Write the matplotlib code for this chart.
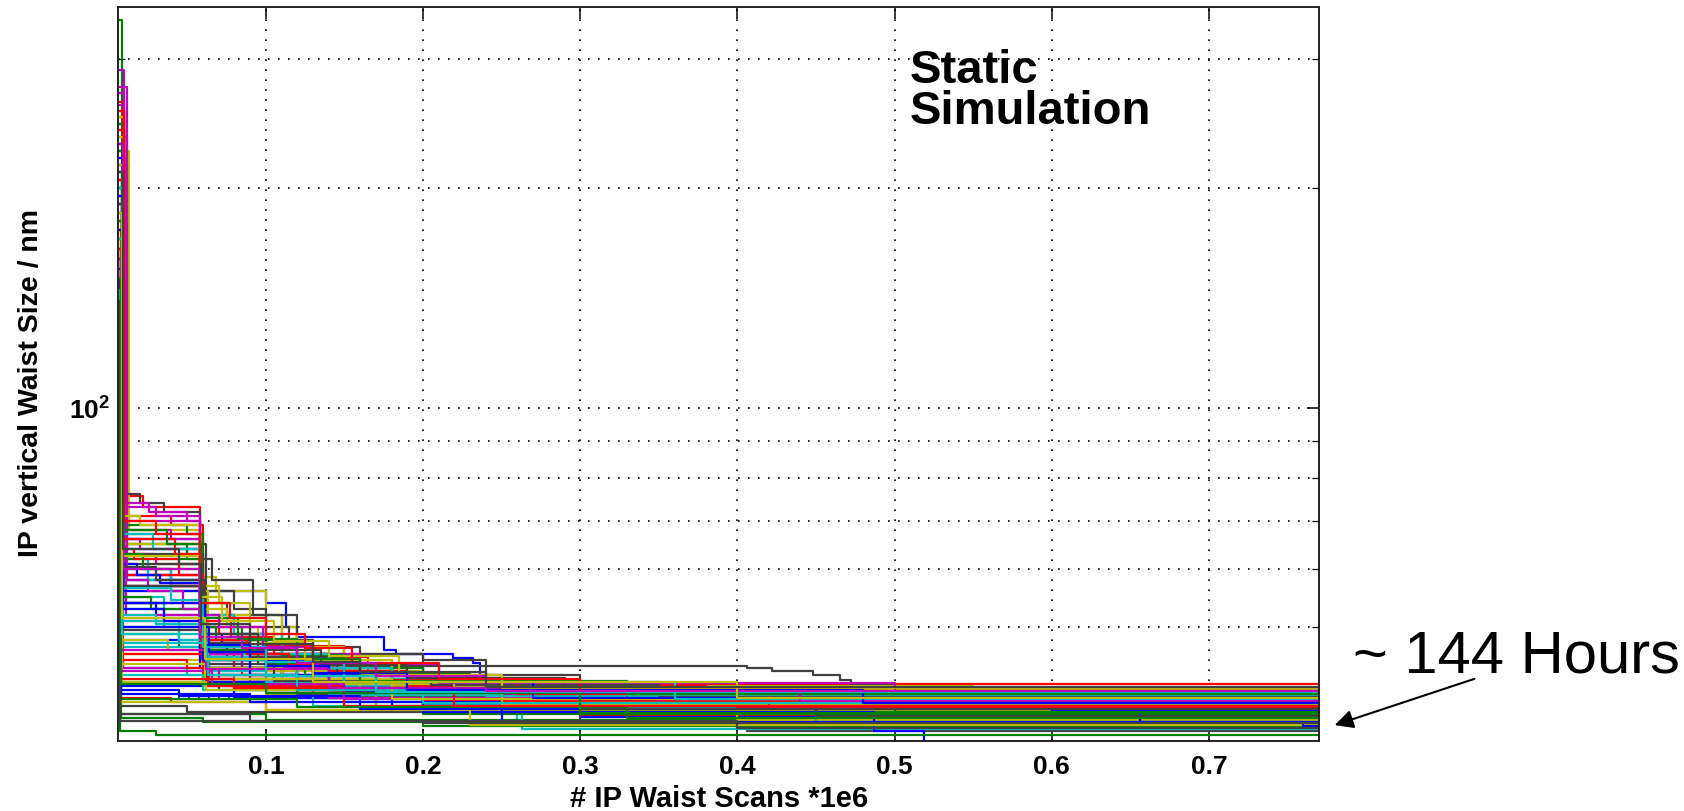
import matplotlib.pyplot as plt
from matplotlib import font_manager
from matplotlib.ticker import FixedLocator, NullFormatter

# one seed per run: (scans *1e6, waist size nm) breakpoints, value holds until the next one
runs_a = [
    [(0.006, 205), (0.0085, 59), (0.040, 57), (0.060, 56), (0.100, 54), (0.113, 50), (0.120, 48.4),
     (0.175, 46.5), (0.183, 46.0), (0.219, 45.3), (0.232, 44.6), (0.236, 41.8), (0.289, 40.6), (0.77, 40.6)],
    [(0.006, 340), (0.0085, 57), (0.062, 44), (0.090, 42.5), (0.150, 40.2), (0.77, 40.2)],
    [(0.006, 262), (0.009, 75.6), (0.022, 73), (0.058, 50), (0.070, 49), (0.100, 47.1), (0.150, 45.5),
     (0.165, 43), (0.180, 41.8), (0.77, 41.8)],
    [(0.006, 190), (0.0095, 62), (0.025, 58), (0.060, 45), (0.110, 42), (0.200, 39.2), (0.77, 39.2)],
    [(0.006, 235), (0.012, 66), (0.020, 64), (0.058, 47), (0.080, 44), (0.200, 40.9), (0.77, 40.9)],
    [(0.006, 225), (0.013, 68), (0.058, 58.5), (0.068, 56), (0.100, 50), (0.120, 46), (0.143, 44),
     (0.179, 43.5), (0.198, 42.2), (0.287, 41.1), (0.497, 40.5), (0.77, 40.5)],
    [(0.006, 245), (0.009, 76), (0.020, 74), (0.035, 72), (0.058, 62), (0.066, 58), (0.092, 52),
     (0.110, 48), (0.130, 45.5), (0.150, 44.2), (0.406, 43.9), (0.422, 43.5), (0.448, 43.0),
     (0.465, 42.3), (0.472, 41.6), (0.499, 40.5), (0.617, 40.3), (0.77, 40.3)],
    [(0.006, 150), (0.0075, 54), (0.030, 52), (0.061, 43.5), (0.120, 40.0), (0.300, 39.6), (0.77, 39.6)],
    [(0.006, 170), (0.008, 49), (0.045, 47), (0.062, 42), (0.200, 38.3), (0.77, 38.3)],
    [(0.006, 215), (0.009, 71), (0.040, 69), (0.060, 48), (0.090, 46), (0.130, 44), (0.160, 40.4),
     (0.550, 39.9), (0.77, 39.9)],
    [(0.006, 130), (0.007, 44), (0.050, 43), (0.080, 41), (0.260, 37.0), (0.77, 37.0)],
    [(0.006, 260), (0.0095, 63), (0.030, 61), (0.059, 46), (0.110, 43), (0.250, 39.5), (0.77, 39.5)],
    [(0.006, 120), (0.008, 46), (0.063, 42.5), (0.100, 40.5), (0.350, 38.0), (0.77, 38.0)],
    [(0.006, 180), (0.009, 65), (0.062, 56), (0.080, 53), (0.100, 50), (0.115, 48), (0.130, 47),
     (0.160, 46), (0.200, 45), (0.240, 43), (0.300, 40.8), (0.77, 40.8)],
    [(0.006, 230), (0.009, 58), (0.060, 47), (0.075, 45), (0.120, 42), (0.180, 39), (0.77, 39)],
    [(0.006, 195), (0.0085, 69), (0.050, 67), (0.060, 50), (0.085, 48), (0.110, 44), (0.170, 41),
     (0.400, 40.0), (0.77, 40.0)],
    [(0.006, 175), (0.008, 40), (0.040, 39.5), (0.100, 38.5), (0.300, 37.8), (0.77, 37.8)],
    [(0.006, 160), (0.0085, 55), (0.035, 50), (0.061, 44), (0.140, 40.7), (0.77, 40.7)],
    [(0.006, 275), (0.0115, 73), (0.030, 71), (0.058, 49), (0.100, 46), (0.140, 42.5), (0.220, 39.8),
     (0.77, 39.8)],
    [(0.006, 205), (0.010, 61), (0.058, 57), (0.070, 54), (0.090, 52), (0.110, 47), (0.150, 44.5),
     (0.190, 42), (0.260, 40.0), (0.77, 40.0)],
    [(0.006, 145), (0.0075, 42), (0.070, 41), (0.200, 38.5), (0.406, 36.0), (0.77, 36.0)],
]

runs_b = [
    [(0.006, 190), (0.0085, 64), (0.058, 52), (0.080, 49), (0.100, 45), (0.160, 42), (0.300, 38.8),
     (0.77, 38.8)],
    [(0.006, 140), (0.007, 38), (0.100, 37.3), (0.77, 37.3)],
    [(0.006, 250), (0.0095, 60), (0.040, 57), (0.059, 45), (0.120, 41.5), (0.450, 40.3), (0.77, 40.3)],
    [(0.006, 135), (0.008, 47), (0.064, 42), (0.150, 39.5), (0.263, 36.2), (0.77, 36.2)],
    [(0.006, 220), (0.011, 52), (0.060, 44.5), (0.090, 42.0), (0.350, 38.6), (0.77, 38.6)],
    [(0.006, 160), (0.0085, 50), (0.062, 43), (0.130, 40.0), (0.400, 37.2), (0.77, 37.2)],
    [(0.006, 210), (0.0085, 67), (0.058, 54), (0.075, 52), (0.120, 46), (0.200, 42), (0.300, 39.0),
     (0.77, 39.0)],
    [(0.006, 120), (0.007, 41.5), (0.080, 40.0), (0.300, 37.6), (0.77, 37.6)],
    [(0.006, 230), (0.009, 62), (0.058, 48), (0.100, 44), (0.200, 38.0), (0.77, 38.0)],
    [(0.006, 185), (0.0085, 57), (0.061, 46), (0.085, 43), (0.140, 41), (0.330, 39.4), (0.77, 39.4)],
    [(0.006, 150), (0.0085, 53), (0.062, 43.5), (0.160, 39.8), (0.77, 39.8)],
    [(0.006, 200), (0.009, 59), (0.058, 45), (0.130, 40.5), (0.500, 39.0), (0.77, 39.0)],
    [(0.006, 140), (0.0075, 45), (0.060, 41.5), (0.170, 38.5), (0.77, 38.5)],
    [(0.006, 110), (0.007, 39), (0.050, 38.2), (0.300, 36.8), (0.77, 36.8)],
    [(0.006, 240), (0.0095, 66), (0.058, 46), (0.110, 43), (0.180, 40.4), (0.600, 38.4), (0.77, 38.4)],
    [(0.006, 165), (0.008, 37.5), (0.060, 37.0), (0.200, 36.6), (0.77, 36.6)],
    [(0.006, 205), (0.009, 54), (0.060, 44), (0.120, 41.0), (0.300, 40.1), (0.77, 40.1)],
    [(0.006, 180), (0.009, 60), (0.040, 56), (0.061, 45), (0.120, 41.5), (0.250, 38.9), (0.77, 38.9)],
    [(0.006, 290), (0.010, 70), (0.058, 50), (0.100, 46), (0.160, 41), (0.400, 40.6), (0.77, 40.6)],
    [(0.006, 190), (0.0085, 56), (0.063, 47), (0.100, 43.5), (0.160, 40.0), (0.400, 37.4), (0.77, 37.4)],
    [(0.006, 225), (0.009, 63), (0.060, 46), (0.140, 42), (0.280, 39.2), (0.77, 39.2)],
]

runs_c = [
    [(0.006, 155), (0.008, 48), (0.062, 42), (0.200, 38.2), (0.487, 36.0), (0.519, 30), (0.77, 30)],
    [(0.006, 210), (0.009, 65), (0.050, 62), (0.059, 47), (0.090, 44), (0.140, 40), (0.300, 38.0),
     (0.77, 38.0)],
    [(0.006, 170), (0.0085, 51), (0.060, 43), (0.100, 41), (0.200, 39.6), (0.77, 39.6)],
    [(0.006, 125), (0.0075, 43), (0.060, 41), (0.130, 39.0), (0.450, 37.0), (0.77, 37.0)],
    [(0.006, 245), (0.0095, 68), (0.040, 66), (0.058, 48), (0.090, 45), (0.130, 42), (0.300, 40.2),
     (0.77, 40.2)],
    [(0.006, 135), (0.0075, 39.5), (0.100, 38.5), (0.230, 36.7), (0.77, 36.7)],
    [(0.006, 200), (0.009, 61), (0.060, 48), (0.100, 44), (0.180, 40.4), (0.77, 40.4)],
    [(0.006, 215), (0.009, 56), (0.058, 44), (0.150, 40.8), (0.656, 37.0), (0.760, 36.6), (0.77, 36.6)],
    [(0.006, 145), (0.0075, 36.0), (0.030, 35.6), (0.77, 35.6)],
    [(0.006, 230), (0.0095, 59), (0.059, 47), (0.080, 44), (0.120, 41), (0.400, 38.7), (0.77, 38.7)],
    [(0.006, 170), (0.0085, 58), (0.060, 46), (0.100, 42), (0.200, 40.0), (0.77, 40.0)],
    [(0.006, 190), (0.009, 44), (0.070, 42.5), (0.140, 40.0), (0.350, 39.3), (0.77, 39.3)],
    [(0.006, 250), (0.0095, 65), (0.059, 52), (0.090, 49), (0.120, 45), (0.180, 41.5), (0.550, 39.7),
     (0.77, 39.7)],
    [(0.006, 175), (0.0085, 50), (0.062, 43), (0.120, 40.3), (0.450, 37.8), (0.77, 37.8)],
    [(0.006, 165), (0.008, 40.5), (0.090, 39.5), (0.250, 37.0), (0.77, 37.0)],
    [(0.006, 200), (0.009, 54), (0.061, 44), (0.110, 41.3), (0.500, 38.2), (0.77, 38.2)],
    [(0.006, 140), (0.0075, 46), (0.063, 41.5), (0.150, 39.0), (0.77, 39.0)],
    [(0.006, 210), (0.009, 51), (0.045, 48), (0.062, 44), (0.140, 40.4), (0.600, 39.5), (0.77, 39.5)],
    [(0.006, 255), (0.0095, 57), (0.060, 45.5), (0.110, 42.5), (0.250, 40.3), (0.77, 40.3)],
    [(0.006, 180), (0.0085, 42), (0.062, 41), (0.250, 39.1), (0.77, 39.1)],
    [(0.006, 130), (0.0075, 38), (0.090, 37.2), (0.400, 36.4), (0.77, 36.4)],
]

runs_d = [
    [(0.006, 185), (0.0085, 61), (0.018, 59), (0.033, 57.5), (0.059, 49), (0.072, 47), (0.100, 45),
     (0.130, 43), (0.210, 41.2), (0.77, 41.2)],
    [(0.006, 225), (0.009, 55), (0.027, 53), (0.061, 46.5), (0.095, 44.5), (0.125, 42.8), (0.170, 40.9),
     (0.450, 40.0), (0.77, 40.0)],
    [(0.006, 240), (0.0095, 64), (0.016, 62), (0.045, 59), (0.060, 51), (0.078, 48.5), (0.105, 46),
     (0.140, 43.5), (0.190, 41.5), (0.380, 40.7), (0.77, 40.7)],
    [(0.006, 175), (0.0085, 52), (0.030, 50.5), (0.062, 45.5), (0.120, 42.5), (0.240, 40.2), (0.77, 40.2)],
    [(0.006, 215), (0.012, 58), (0.025, 56), (0.047, 53), (0.060, 46), (0.085, 44), (0.160, 41.8),
     (0.330, 39.9), (0.77, 39.9)],
    [(0.006, 160), (0.0085, 48), (0.038, 46.5), (0.063, 44), (0.110, 41.8), (0.300, 39.4), (0.77, 39.4)],
    [(0.006, 200), (0.009, 57), (0.060, 47.5), (0.090, 45.5), (0.145, 43.3), (0.205, 41.7), (0.350, 40.2),
     (0.77, 40.2)],
    [(0.006, 130), (0.0075, 41), (0.045, 40.2), (0.160, 38.6), (0.77, 38.6)],
    [(0.006, 180), (0.0085, 63), (0.022, 60), (0.058, 50), (0.068, 48), (0.110, 45.8), (0.150, 43.2),
     (0.230, 40.9), (0.77, 40.9)],
    [(0.006, 165), (0.008, 45), (0.050, 44), (0.064, 42.5), (0.130, 40.6), (0.420, 38.9), (0.77, 38.9)],
    [(0.006, 195), (0.009, 67), (0.028, 64), (0.058, 52), (0.080, 49), (0.110, 46), (0.140, 44.0),
     (0.180, 42.5), (0.270, 40.4), (0.77, 40.4)],
    [(0.006, 150), (0.008, 43.5), (0.066, 41.8), (0.150, 39.9), (0.77, 39.9)],
    [(0.006, 235), (0.0095, 71), (0.020, 69), (0.058, 53), (0.075, 50), (0.095, 47.5), (0.125, 45),
     (0.160, 43), (0.220, 41.4), (0.360, 41.0), (0.77, 41.0)],
    [(0.006, 160), (0.008, 49.5), (0.061, 44.5), (0.105, 42.2), (0.300, 38.6), (0.77, 38.6)],
    [(0.006, 220), (0.009, 53), (0.035, 51), (0.060, 45), (0.090, 43), (0.120, 41.3), (0.400, 39.8),
     (0.77, 39.8)],
    [(0.006, 125), (0.007, 39.8), (0.120, 38.9), (0.330, 37.5), (0.77, 37.5)],
    [(0.006, 205), (0.009, 66), (0.042, 63), (0.059, 48), (0.088, 46), (0.115, 44.3), (0.170, 42.3),
     (0.260, 40.5), (0.77, 40.5)],
    [(0.006, 145), (0.0075, 47.5), (0.063, 43), (0.120, 41), (0.200, 39.3), (0.77, 39.3)],
    [(0.006, 270), (0.010, 74), (0.026, 72), (0.050, 70), (0.058, 52), (0.070, 50), (0.098, 47),
     (0.130, 44.5), (0.210, 41.9), (0.500, 40.8), (0.77, 40.8)],
    [(0.006, 170), (0.0085, 44.5), (0.061, 42.5), (0.180, 39.8), (0.77, 39.8)],
    [(0.006, 190), (0.009, 60.5), (0.030, 58), (0.061, 49), (0.095, 46.5), (0.135, 44.4), (0.190, 42.6),
     (0.290, 40.6), (0.77, 40.6)],
]

runs_e = [
    [(0.006, 175), (0.0085, 50), (0.064, 46.2), (0.100, 44.2), (0.140, 42.1), (0.270, 40.0), (0.77, 40.0)],
    [(0.006, 245), (0.0095, 68), (0.037, 65), (0.059, 51.5), (0.082, 48.2), (0.120, 45.2), (0.160, 42.2),
     (0.330, 40.5), (0.77, 40.5)],
    [(0.006, 135), (0.0075, 42.5), (0.080, 41.2), (0.220, 39.0), (0.77, 39.0)],
    [(0.006, 200), (0.009, 56.5), (0.040, 54.5), (0.060, 47), (0.100, 44.8), (0.150, 42.0), (0.360, 39.9),
     (0.77, 39.9)],
    [(0.006, 160), (0.008, 46.5), (0.062, 43.8), (0.140, 41.2), (0.440, 39.6), (0.77, 39.6)],
    [(0.006, 215), (0.009, 62.5), (0.058, 55), (0.072, 51), (0.105, 47.8), (0.140, 45.6), (0.185, 43),
     (0.250, 41.3), (0.77, 41.3)],
    [(0.006, 140), (0.0075, 37.2), (0.200, 36.9), (0.77, 36.9)],
    [(0.006, 195), (0.009, 54), (0.061, 47.2), (0.090, 45.2), (0.130, 43.2), (0.190, 41.0), (0.480, 39.3),
     (0.77, 39.3)],
    [(0.006, 150), (0.008, 41.8), (0.100, 40.6), (0.300, 38.1), (0.77, 38.1)],
    [(0.006, 255), (0.0095, 70), (0.030, 67), (0.058, 54), (0.077, 51.5), (0.100, 49), (0.125, 46.8),
     (0.155, 44.6), (0.210, 42.4), (0.300, 40.9), (0.77, 40.9)],
    [(0.006, 170), (0.0085, 49), (0.062, 45), (0.100, 42.8), (0.170, 40.7), (0.77, 40.7)],
    [(0.006, 230), (0.009, 60), (0.058, 48.5), (0.085, 46.8), (0.120, 44.6), (0.170, 42.8), (0.240, 40.9),
     (0.77, 40.9)],
    [(0.006, 185), (0.0085, 51.5), (0.061, 45.2), (0.130, 42), (0.400, 40.0), (0.77, 40.0)],
    [(0.006, 210), (0.009, 64), (0.045, 61), (0.059, 50.5), (0.090, 47.4), (0.130, 44.8), (0.160, 43.4),
     (0.240, 41.4), (0.77, 41.4)],
]

x_ticks = [0.1, 0.2, 0.3, 0.4, 0.5, 0.6, 0.7]
x_labels = ['0.1', '0.2', '0.3', '0.4', '0.5', '0.6', '0.7']
y_minor = [40, 50, 60, 70, 80, 90, 200, 300]

# old matlab colour order
matlab_colors = ['#0000ff', '#008000', '#ff0000', '#00bfbf', '#bf00bf', '#bfbf00', '#404040']

plt.rcParams['font.family'] = ['Liberation Sans', 'DejaVu Sans']
plt.rcParams['mathtext.fontset'] = 'custom'
plt.rcParams['mathtext.rm'] = 'Liberation Sans'
plt.rcParams['mathtext.bf'] = 'Liberation Sans:bold'

# the y label in the original is a narrow face
try:
    font_manager.findfont(font_manager.FontProperties(family='Liberation Sans Narrow', weight='bold'),
                          fallback_to_default=False)
    ylab_family, ylab_size = 'Liberation Sans Narrow', 25.5
except ValueError:
    ylab_family, ylab_size = 'Liberation Sans', 20.5

fig = plt.figure(figsize=(16.84, 8.12), dpi=100)
ax = fig.add_axes([0.0701, 0.0862, 0.7132, 0.9039])

runs = runs_a + runs_b + runs_c + runs_d + runs_e
for i, run in enumerate(runs):
    xs = [p[0] for p in run]
    ys = [p[1] for p in run]
    ax.plot(xs, ys, drawstyle='steps-post', color=matlab_colors[i % 7], lw=1.6, zorder=2)

ax.set_yscale('log')
ax.set_xlim(0.006, 0.77)
ax.set_ylim(34.9, 354)

ax.set_xticks(x_ticks)
ax.set_xticklabels(x_labels, fontsize=19, fontweight='bold')
ax.set_yticks([100])
ax.set_yticklabels([r'$\mathbf{10^{2}}$'], fontsize=19)
ax.yaxis.set_minor_locator(FixedLocator(y_minor))
ax.yaxis.set_minor_formatter(NullFormatter())
ax.xaxis.set_minor_locator(FixedLocator([]))

ax.tick_params(which='both', direction='in', top=True, right=True, color='black')
ax.tick_params(which='major', length=8.5, width=1.1)
ax.tick_params(which='minor', length=5, width=0.9)
ax.tick_params(axis='x', pad=9)
ax.tick_params(axis='y', pad=6)

dots = (0, (1, 5))
ax.grid(True, which='major', color='black', linestyle=dots, lw=1.2, zorder=1)
ax.grid(True, which='minor', axis='y', color='black', linestyle=dots, lw=1.2, zorder=1)
ax.set_axisbelow(True)

for s in ax.spines.values():
    s.set_linewidth(1.4)
    s.set_color('#222222')

ax.set_xlabel('# IP Waist Scans *1e6', fontsize=21, fontweight='bold', va='baseline')
ax.xaxis.set_label_coords(0.5, -0.0886)
ax.set_ylabel('IP vertical Waist Size / nm', fontsize=ylab_size, fontweight='bold',
              family=ylab_family, va='center')
ax.yaxis.set_label_coords(-0.0724, 0.489)

fig.text(910 / 1684, 1 - 83 / 812, 'Static', fontsize=34, fontweight='bold', va='baseline')
fig.text(910 / 1684, 1 - 124 / 812, 'Simulation', fontsize=34, fontweight='bold', va='baseline')
fig.text(1353 / 1684, 1 - 673 / 812, '~ 144 Hours', fontsize=43, va='baseline')

ax.annotate('', xy=(1332, 812 - 727), xycoords='figure pixels',
            xytext=(1477, 812 - 679), textcoords='figure pixels',
            arrowprops=dict(arrowstyle='-|>', color='black', lw=1.5, mutation_scale=28),
            annotation_clip=False)

fig.savefig('out.png', dpi=100, facecolor='white')
